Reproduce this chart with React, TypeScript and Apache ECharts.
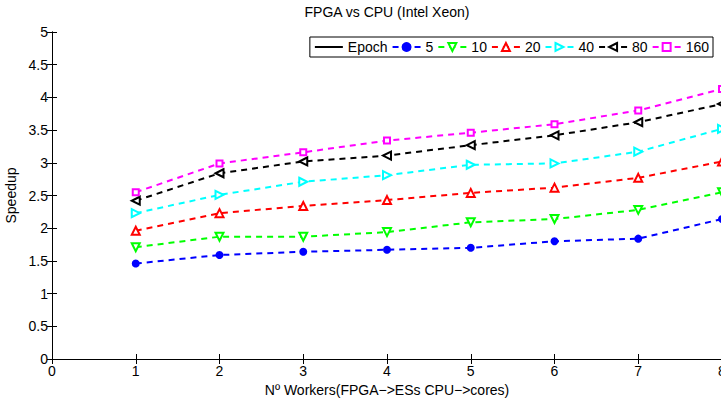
import React, { useEffect, useRef } from "react";
import * as echarts from "echarts";

const workers = [1, 2, 3, 4, 5, 6, 7, 8];
const epochs5 = [1.46, 1.59, 1.64, 1.67, 1.70, 1.80, 1.84, 2.14];
const epochs10 = [1.71, 1.87, 1.87, 1.94, 2.09, 2.14, 2.28, 2.55];
const epochs20 = [1.96, 2.23, 2.34, 2.43, 2.54, 2.62, 2.77, 3.02];
const epochs40 = [2.23, 2.51, 2.71, 2.81, 2.97, 2.99, 3.17, 3.52];
const epochs80 = [2.42, 2.84, 3.02, 3.11, 3.27, 3.42, 3.62, 3.90];
const epochs160 = [2.55, 2.99, 3.16, 3.34, 3.46, 3.59, 3.80, 4.13];

const FONT = "Liberation Sans, Arial, Helvetica, sans-serif";

const SYM_UP = "path://M5,0L10,10L0,10Z";
const SYM_DOWN = "path://M0,0L10,0L5,10Z";
const SYM_RIGHT = "path://M0,0L10,5L0,10Z";
const SYM_LEFT = "path://M10,0L0,5L10,10Z";
const SYM_SQUARE = "path://M0,0L10,0L10,10L0,10Z";

function mk(name: string, vals: number[], color: string, symbol: string, size: number, filled: boolean) {
  return {
    name,
    type: "line",
    data: workers.map((w, i) => [w, vals[i]]),
    symbol,
    symbolSize: size,
    showSymbol: true,
    lineStyle: { color, width: 2, type: [6, 5] },
    itemStyle: { color: filled ? color : "#ffffff", borderColor: color, borderWidth: 2 },
    emphasis: { disabled: true },
    z: 3,
  };
}

export default function App() {
  const ref = useRef<HTMLDivElement>(null);
  useEffect(() => {
    if (!ref.current) return;
    const chart = echarts.init(ref.current, undefined, { renderer: "svg" });
    const axisCommon = {
      type: "value",
      axisLine: { show: true, lineStyle: { color: "#000", width: 1 } },
      axisTick: { show: true, inside: true, length: 5, lineStyle: { color: "#000" } },
      splitLine: { show: false },
    };
    chart.setOption({
      animation: false,
      backgroundColor: "#ffffff",
      textStyle: { fontFamily: FONT },
      graphic: [
        {
          type: "text",
          x: 387,
          y: 5,
          style: { text: "FPGA vs CPU (Intel Xeon)", font: `14px ${FONT}`, fill: "#000", textAlign: "center" },
        },
      ],
      legend: {
        right: 8,
        top: 37,
        orient: "horizontal",
        itemWidth: 28,
        itemHeight: 10,
        itemGap: 4,
        padding: [3, 4],
        borderColor: "#000",
        borderWidth: 1,
        backgroundColor: "#fff",
        textStyle: { fontSize: 14, color: "#000", fontFamily: FONT },
        data: ["Epoch", "5", "10", "20", "40", "80", "160"],
      },
      grid: { left: 52, top: 32, width: 670, height: 327, outerBoundsMode: "none", containLabel: false },
      xAxis: [
        {
          ...axisCommon,
          position: "bottom",
          min: 0,
          max: 8,
          interval: 1,
          axisLabel: { color: "#000", fontSize: 14, fontFamily: FONT, margin: 5 },
          name: "Nº Workers(FPGA−>ESs CPU−>cores)",
          nameLocation: "middle",
          nameGap: 16,
          nameTextStyle: { color: "#000", fontSize: 14, fontFamily: FONT, verticalAlign: "top" },
        },
        {
          ...axisCommon,
          position: "top",
          min: 0,
          max: 8,
          interval: 1,
          axisLabel: { show: false },
        },
      ],
      yAxis: [
        {
          ...axisCommon,
          position: "left",
          min: 0,
          max: 5,
          interval: 0.5,
          axisLabel: { color: "#000", fontSize: 14, fontFamily: FONT, margin: 4 },
          name: "Speedup",
          nameLocation: "middle",
          nameGap: 32,
          nameRotate: 90,
          nameTextStyle: { color: "#000", fontSize: 14, fontFamily: FONT },
        },
        {
          ...axisCommon,
          position: "right",
          min: 0,
          max: 5,
          interval: 0.5,
          axisLabel: { show: false },
        },
      ],
      series: [
        {
          name: "Epoch",
          type: "line",
          data: [],
          symbol: "none",
          lineStyle: { color: "#000", width: 1, type: "solid" },
          itemStyle: { color: "rgba(0,0,0,0)", borderColor: "rgba(0,0,0,0)", borderWidth: 0 },
        },
        mk("5", epochs5, "#0000ff", "circle", 6, true),
        mk("10", epochs10, "#00ff00", SYM_DOWN, 8, false),
        mk("20", epochs20, "#ff0000", SYM_UP, 8, false),
        mk("40", epochs40, "#00ffff", SYM_RIGHT, 8, false),
        mk("80", epochs80, "#000000", SYM_LEFT, 8, false),
        mk("160", epochs160, "#ff00ff", SYM_SQUARE, 6, false),
      ],
    });
    return () => chart.dispose();
  }, []);
  return (
    <div
      ref={ref}
      style={{ position: "absolute", left: 0, top: 0, width: 721, height: 401, background: "#fff" }}
    />
  );
}
